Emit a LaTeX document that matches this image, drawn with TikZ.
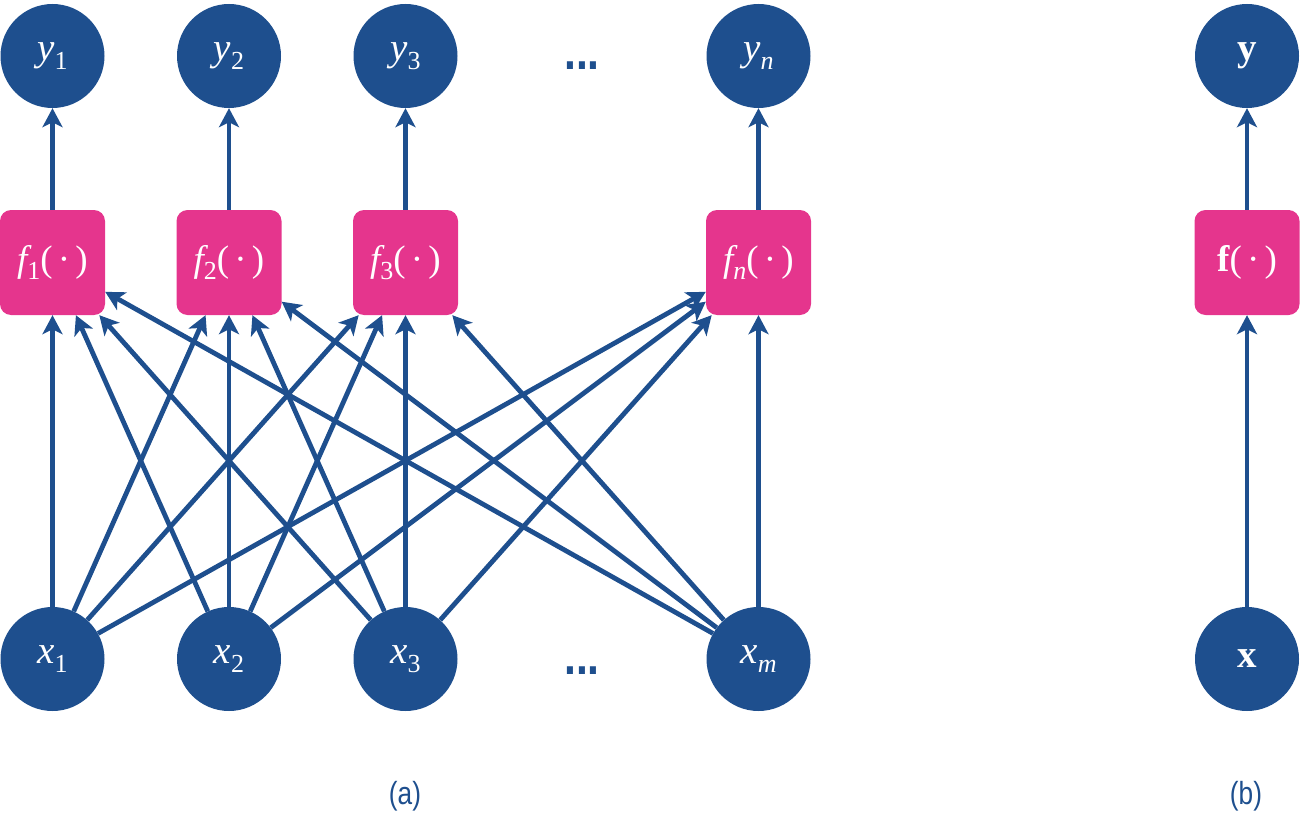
\documentclass[tikz,border=0pt]{standalone}
\usepackage{fontspec}
\setmainfont{Liberation Serif}
\setsansfont{Liberation Sans}[FakeStretch=0.82]
\usetikzlibrary{arrows.meta}
\definecolor{netblue}{HTML}{1E4F8E}
\definecolor{netpink}{HTML}{E5358D}
% italic symbol with a lowered upright index
\newcommand\sym[2]{{\itshape #1}\raisebox{-0.22em}{\fontsize{26}{28}\selectfont #2}}
\newcommand\placeholder{(\hspace{0.14em}·\hspace{0.14em})}
\begin{document}
\begin{tikzpicture}[x=1pt,y=-1pt,
  unit/.style={circle, fill=netblue, minimum size=104pt, inner sep=0pt,
    text=white, font=\fontsize{39}{40}\selectfont},
  fbox/.style={rectangle, rounded corners=11pt, fill=netpink,
    minimum width=105pt, minimum height=105pt, inner sep=0pt,
    text=white, font=\fontsize{37}{40}\selectfont},
  link/.style={draw=netblue, line width=4.8pt,
    -{Stealth[length=19pt,width=20pt,inset=5pt]}},
  dotsym/.style={text=netblue, inner sep=0pt, anchor=base,
    font=\sffamily\bfseries\fontsize{52}{56}\selectfont},
  caption/.style={text=netblue, inner sep=0pt,
    font=\sffamily\fontsize{32}{36}\selectfont}]
\useasboundingbox (0,0) rectangle (1300,813);

% outputs
\node[unit] (y1) at (52.5,56) {\sym{y}{1}};
\node[unit] (y2) at (229,56) {\sym{y}{2}};
\node[unit] (y3) at (405.5,56) {\sym{y}{3}};
\node[unit] (yn) at (758.5,56) {\sym{y}{\itshape n}};
\node[unit] (yb) at (1247,56) {\bfseries y};

% functions
\node[fbox] (f1) at (52.5,262.5) {\sym{f}{1}\placeholder};
\node[fbox] (f2) at (229,262.5) {\sym{f}{2}\placeholder};
\node[fbox] (f3) at (405.5,262.5) {\sym{f}{3}\placeholder};
\node[fbox] (fn) at (758.5,262.5) {\sym{f}{\itshape n}\placeholder};
\node[fbox] (fb) at (1247,262.5) {{\bfseries f}\placeholder};

% inputs
\node[unit] (x1) at (52.5,659) {\sym{x}{1}};
\node[unit] (x2) at (229,659) {\sym{x}{2}};
\node[unit] (x3) at (405.5,659) {\sym{x}{3}};
\node[unit] (xm) at (758.5,659) {\sym{x}{\itshape m}};
\node[unit] (xb) at (1247,659) {\bfseries x};

% ellipses
\node[dotsym] (dtop) at (582,70) {...};
\node[dotsym] (dbot) at (582,674) {...};

% every input feeds every function
\foreach \i in {1,2,3,m}
  \foreach \j in {1,2,3,n}
    \draw[link] (x\i) -- (f\j);
\foreach \j in {1,2,3,n}
  \draw[link] (f\j) -- (y\j);

% vector form
\draw[link] (xb) -- (fb);
\draw[link] (fb) -- (yb);

% captions
\node[caption] (capa) at (405,796) {(a)};
\node[caption] (capb) at (1246,796) {(b)};
\end{tikzpicture}
\end{document}
